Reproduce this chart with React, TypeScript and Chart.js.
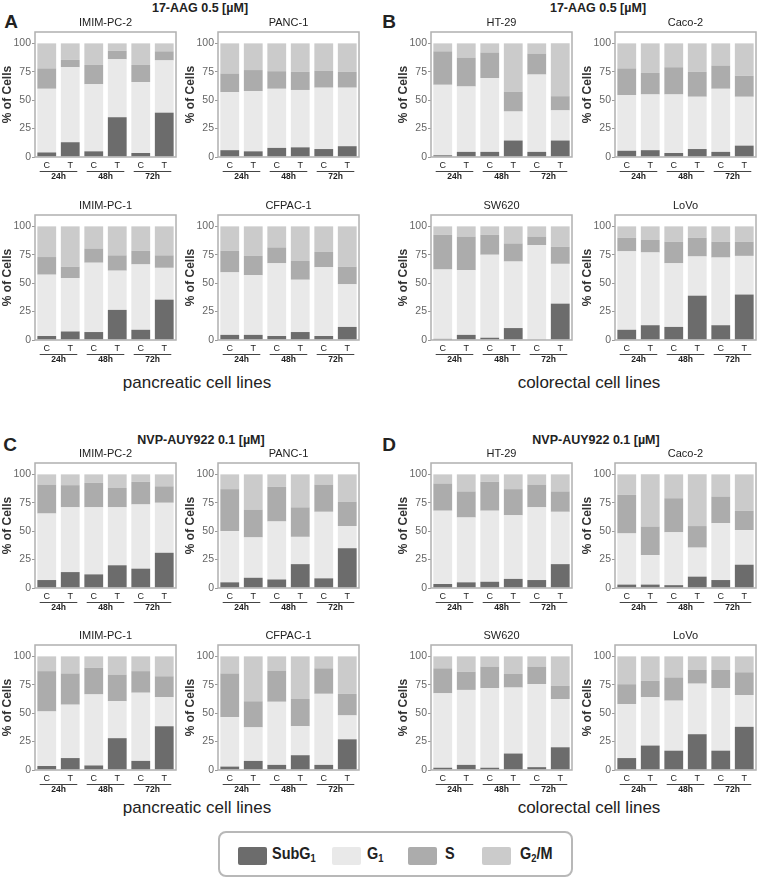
import React, { useEffect, useRef } from 'react';
import { Chart, registerables } from 'chart.js';
Chart.register(...registerables);

// ---------- categories / labels ----------
const categories = ['C', 'T', 'C', 'T', 'C', 'T'];
const groupLabels = ['24h', '48h', '72h'];
const yTickValues = [0, 25, 50, 75, 100];
const phaseNames = ['SubG1', 'G1', 'S', 'G2/M'];
const phaseColors = ['#6c6c6c', '#e9e9e9', '#acacac', '#cbcbcb'];

// ---------- 17-AAG 0.5 µM, pancreatic ----------
const aagImimPc2SubG1 = [4, 13, 5, 35, 3.5, 39];
const aagImimPc2G1 = [56, 66, 59, 51, 62.5, 46];
const aagImimPc2S = [18, 6.5, 17, 7.5, 15, 8];
const aagImimPc2G2M = [22, 14.5, 19, 6.5, 19, 7];

const aagPanc1SubG1 = [6, 5, 8, 8.5, 7, 9.5];
const aagPanc1G1 = [51, 53, 52, 50.5, 54, 51.5];
const aagPanc1S = [16.5, 18.5, 15.5, 16, 15, 14];
const aagPanc1G2M = [26.5, 23.5, 24.5, 25, 24, 25];

const aagImimPc1SubG1 = [3.5, 7.5, 7, 26.5, 9, 35.5];
const aagImimPc1G1 = [54, 47, 61, 34.5, 57.5, 28];
const aagImimPc1S = [15.5, 10, 12.5, 13.5, 12, 11];
const aagImimPc1G2M = [27, 35.5, 19.5, 25.5, 21.5, 25.5];

const aagCfpac1SubG1 = [4.5, 4.5, 3.5, 7, 3.5, 11.5];
const aagCfpac1G1 = [55, 52.5, 64, 46, 60.5, 37.5];
const aagCfpac1S = [19, 17, 14, 16.5, 13.5, 15.5];
const aagCfpac1G2M = [21.5, 26, 18.5, 30.5, 22.5, 35.5];

// ---------- 17-AAG 0.5 µM, colorectal ----------
const aagHt29SubG1 = [1.5, 4.5, 4.5, 14.5, 4.5, 14.5];
const aagHt29G1 = [62, 57.5, 65, 25.5, 68, 26.5];
const aagHt29S = [29.5, 25.5, 22.5, 17.5, 18.5, 12.5];
const aagHt29G2M = [7, 12.5, 8, 42.5, 9, 46.5];

const aagCaco2SubG1 = [5.5, 6, 3.5, 7, 4.5, 10];
const aagCaco2G1 = [49, 49, 51.5, 46, 55.5, 43];
const aagCaco2S = [23.5, 19, 24, 22, 20.5, 18.5];
const aagCaco2G2M = [22, 26, 21, 25, 19.5, 28.5];

const aagSw620SubG1 = [1, 4.5, 2, 10.5, 0.5, 32];
const aagSw620G1 = [61, 57, 73, 58.5, 83, 35];
const aagSw620S = [30.5, 29.5, 17.5, 16, 7.5, 15];
const aagSw620G2M = [7.5, 9, 7.5, 15, 9, 18];

const aagLovoSubG1 = [9, 13, 11.5, 39, 13, 40];
const aagLovoG1 = [69, 64, 56, 34.5, 59.5, 34];
const aagLovoS = [12, 11, 19, 16.5, 14, 12.5];
const aagLovoG2M = [10, 12, 13.5, 10, 13.5, 13.5];

// ---------- NVP-AUY922 0.1 µM, pancreatic ----------
const nvpImimPc2SubG1 = [7, 14, 12, 20, 17, 31];
const nvpImimPc2G1 = [58.5, 57, 59, 51, 56.5, 44];
const nvpImimPc2S = [25.5, 19.5, 21.5, 17, 20, 14.5];
const nvpImimPc2G2M = [9, 9.5, 7.5, 12, 6.5, 10.5];

const nvpPanc1SubG1 = [5, 9, 7.5, 21, 8.5, 35];
const nvpPanc1G1 = [45, 35.5, 51, 24, 58.5, 19.5];
const nvpPanc1S = [37, 24.5, 30.5, 26, 24, 21.5];
const nvpPanc1G2M = [13, 31, 11, 29, 9, 24];

const nvpImimPc1SubG1 = [3.5, 10.5, 4, 28, 8, 38.5];
const nvpImimPc1G1 = [48, 47, 62.5, 32.5, 60, 25.5];
const nvpImimPc1S = [35.5, 27.5, 23.5, 23.5, 19, 18.5];
const nvpImimPc1G2M = [13, 15, 10, 16, 13, 17.5];

const nvpCfpac1SubG1 = [3, 8, 4.5, 13, 4.5, 27];
const nvpCfpac1G1 = [43.5, 29.5, 55.5, 25.5, 62.5, 21];
const nvpCfpac1S = [38.5, 23, 27.5, 24, 22.5, 19];
const nvpCfpac1G2M = [15, 39.5, 12.5, 37.5, 10.5, 33];

// ---------- NVP-AUY922 0.1 µM, colorectal ----------
const nvpHt29SubG1 = [3.5, 5, 5.5, 8, 7, 21];
const nvpHt29G1 = [64.5, 57, 62.5, 56, 64, 46];
const nvpHt29S = [24, 23, 25.5, 23, 20, 18];
const nvpHt29G2M = [8, 15, 6.5, 13, 9, 15];

const nvpCaco2SubG1 = [3, 3, 2.5, 10, 7, 20.5];
const nvpCaco2G1 = [45, 26, 46.5, 25.5, 50, 30.5];
const nvpCaco2S = [34, 25, 30, 19, 23.5, 17];
const nvpCaco2G2M = [18, 46, 21, 45.5, 19.5, 32];

const nvpSw620SubG1 = [2, 4.5, 2, 14.5, 2.5, 20];
const nvpSw620G1 = [65.5, 66, 70, 58, 73, 42.5];
const nvpSw620S = [22, 16, 19, 12, 15.5, 11.5];
const nvpSw620G2M = [10.5, 13.5, 9, 15.5, 9, 26];

const nvpLovoSubG1 = [10.5, 21.5, 17, 31.5, 17, 38];
const nvpLovoG1 = [47.5, 42.5, 44, 44.5, 55, 28];
const nvpLovoS = [17.5, 14.5, 20.5, 12, 16, 20];
const nvpLovoG2M = [24.5, 21.5, 18.5, 12, 12, 14];

// ---------- layout ----------
const AXIS_W = 36;
const PAD_TOP = 18;
const PLOT_W = 141;
const PLOT_H = 125;
const XAXIS_H = 32;
const PAD_R = 2;

const SANS = '"Liberation Sans", Arial, sans-serif';

type Spec = { title: string; fx: number; fy: number; series: number[][] };

const specs: Spec[] = [
  { title: 'IMIM-PC-2', fx: 35, fy: 32, series: [aagImimPc2SubG1, aagImimPc2G1, aagImimPc2S, aagImimPc2G2M] },
  { title: 'PANC-1', fx: 218, fy: 32, series: [aagPanc1SubG1, aagPanc1G1, aagPanc1S, aagPanc1G2M] },
  { title: 'IMIM-PC-1', fx: 35, fy: 215, series: [aagImimPc1SubG1, aagImimPc1G1, aagImimPc1S, aagImimPc1G2M] },
  { title: 'CFPAC-1', fx: 218, fy: 215, series: [aagCfpac1SubG1, aagCfpac1G1, aagCfpac1S, aagCfpac1G2M] },
  { title: 'HT-29', fx: 431, fy: 32, series: [aagHt29SubG1, aagHt29G1, aagHt29S, aagHt29G2M] },
  { title: 'Caco-2', fx: 615, fy: 32, series: [aagCaco2SubG1, aagCaco2G1, aagCaco2S, aagCaco2G2M] },
  { title: 'SW620', fx: 431, fy: 215, series: [aagSw620SubG1, aagSw620G1, aagSw620S, aagSw620G2M] },
  { title: 'LoVo', fx: 615, fy: 215, series: [aagLovoSubG1, aagLovoG1, aagLovoS, aagLovoG2M] },
  { title: 'IMIM-PC-2', fx: 35, fy: 463, series: [nvpImimPc2SubG1, nvpImimPc2G1, nvpImimPc2S, nvpImimPc2G2M] },
  { title: 'PANC-1', fx: 218, fy: 463, series: [nvpPanc1SubG1, nvpPanc1G1, nvpPanc1S, nvpPanc1G2M] },
  { title: 'IMIM-PC-1', fx: 35, fy: 645, series: [nvpImimPc1SubG1, nvpImimPc1G1, nvpImimPc1S, nvpImimPc1G2M] },
  { title: 'CFPAC-1', fx: 218, fy: 645, series: [nvpCfpac1SubG1, nvpCfpac1G1, nvpCfpac1S, nvpCfpac1G2M] },
  { title: 'HT-29', fx: 431, fy: 463, series: [nvpHt29SubG1, nvpHt29G1, nvpHt29S, nvpHt29G2M] },
  { title: 'Caco-2', fx: 615, fy: 463, series: [nvpCaco2SubG1, nvpCaco2G1, nvpCaco2S, nvpCaco2G2M] },
  { title: 'SW620', fx: 431, fy: 645, series: [nvpSw620SubG1, nvpSw620G1, nvpSw620S, nvpSw620G2M] },
  { title: 'LoVo', fx: 615, fy: 645, series: [nvpLovoSubG1, nvpLovoG1, nvpLovoS, nvpLovoG2M] },
];

function makeDecor(title: string) {
  return {
    id: 'decor',
    afterDraw(chart: any) {
      const { ctx, chartArea: a } = chart;
      const x = chart.scales.x;
      ctx.save();
      // frame
      ctx.strokeStyle = '#b0b0b0';
      ctx.lineWidth = 1.5;
      ctx.strokeRect(a.left, a.top, a.right - a.left, a.bottom - a.top);
      // subplot title
      ctx.fillStyle = '#222';
      ctx.font = '11px ' + SANS;
      ctx.textAlign = 'center';
      ctx.textBaseline = 'middle';
      ctx.fillText(title, (a.left + a.right) / 2, a.top - 9);
      // group underline and labels
      const step = x.getPixelForValue(1) - x.getPixelForValue(0);
      const half = step * 0.3;
      groupLabels.forEach((g: string, i: number) => {
        const x1 = x.getPixelForValue(2 * i) - half;
        const x2 = x.getPixelForValue(2 * i + 1) + half;
        const y = a.bottom + 14.5;
        ctx.beginPath();
        ctx.moveTo(x1, y);
        ctx.lineTo(x2, y);
        ctx.strokeStyle = '#444';
        ctx.lineWidth = 1;
        ctx.stroke();
        ctx.fillStyle = '#222';
        ctx.font = 'bold 8.5px ' + SANS;
        ctx.fillText(g, (x1 + x2) / 2, y + 5.5);
      });
      ctx.restore();
    },
  };
}

function SubChart({ spec }: { spec: Spec }) {
  const ref = useRef<HTMLCanvasElement>(null);
  useEffect(() => {
    const chart = new Chart(ref.current as HTMLCanvasElement, {
      type: 'bar',
      data: {
        labels: categories,
        datasets: spec.series.map((d, i) => ({
          label: phaseNames[i],
          data: d,
          backgroundColor: phaseColors[i],
          borderWidth: 0,
          barPercentage: 0.8,
          categoryPercentage: 1,
        })),
      },
      options: {
        animation: false,
        responsive: false,
        maintainAspectRatio: false,
        layout: { padding: { top: PAD_TOP, right: PAD_R, left: 0, bottom: 0 } },
        plugins: { legend: { display: false }, tooltip: { enabled: false }, title: { display: false } },
        scales: {
          x: {
            stacked: true,
            afterFit: (s: any) => { s.height = XAXIS_H; },
            grid: { display: false, drawTicks: false },
            border: { display: false },
            ticks: {
              autoSkip: false,
              maxRotation: 0,
              padding: 3,
              color: '#222',
              font: { size: 9, family: SANS },
            },
          },
          y: {
            stacked: true,
            min: 0,
            max: 110,
            afterBuildTicks: (s: any) => { s.ticks = yTickValues.map((v) => ({ value: v })); },
            afterFit: (s: any) => { s.width = AXIS_W; },
            grid: { display: true, drawOnChartArea: false, drawTicks: true, tickLength: 3, color: '#999' },
            border: { display: false },
            ticks: { padding: 1, color: '#666', font: { size: 10.5, family: SANS } },
            title: {
              display: true,
              text: '% of Cells',
              color: '#333',
              font: { size: 12, weight: 'bold', family: SANS },
              padding: { top: 1, bottom: 0 },
            },
          },
        },
      },
      plugins: [makeDecor(spec.title)],
    } as any);
    return () => chart.destroy();
  }, [spec]);
  return (
    <canvas
      ref={ref}
      width={AXIS_W + PLOT_W + PAD_R}
      height={PAD_TOP + PLOT_H + XAXIS_H}
      style={{ position: 'absolute', left: spec.fx - AXIS_W, top: spec.fy - PAD_TOP }}
    />
  );
}

function Txt({ x, y, size, bold, children }: any) {
  return (
    <div
      style={{
        position: 'absolute',
        left: x,
        top: y,
        transform: 'translate(-50%, -50%)',
        whiteSpace: 'nowrap',
        fontFamily: SANS,
        fontSize: size,
        fontWeight: bold ? 'bold' : 'normal',
        color: '#222',
        lineHeight: 1,
      }}
    >
      {children}
    </div>
  );
}

const legendSwatchX = [238, 332, 408, 482];
const legendTextX = [272, 367, 445, 520];

function PhaseLabel({ name }: { name: string }) {
  const sub = { fontSize: 11, verticalAlign: -3 } as any;
  if (name === 'SubG1') return <span>SubG<sub style={sub}>1</sub></span>;
  if (name === 'G1') return <span>G<sub style={sub}>1</sub></span>;
  if (name === 'G2/M') return <span>G<sub style={sub}>2</sub>/M</span>;
  return <span>{name}</span>;
}

export default function App() {
  return (
    <div style={{ position: 'absolute', left: 0, top: 0, width: 758, height: 880, overflow: 'hidden', background: '#fff' }}>
      <Txt x={200} y={8} size={12.5} bold>17-AAG 0.5 [µM]</Txt>
      <Txt x={598} y={8} size={12.5} bold>17-AAG 0.5 [µM]</Txt>
      <Txt x={201} y={440} size={12.5} bold>NVP-AUY922 0.1 [µM]</Txt>
      <Txt x={596} y={440} size={12.5} bold>NVP-AUY922 0.1 [µM]</Txt>
      <Txt x={11} y={21} size={19} bold>A</Txt>
      <Txt x={389} y={21} size={19} bold>B</Txt>
      <Txt x={10} y={444} size={19} bold>C</Txt>
      <Txt x={389} y={444} size={19} bold>D</Txt>
      <Txt x={197} y={382} size={17}>pancreatic cell lines</Txt>
      <Txt x={589} y={382} size={17}>colorectal cell lines</Txt>
      <Txt x={197} y={807} size={17}>pancreatic cell lines</Txt>
      <Txt x={589} y={807} size={17}>colorectal cell lines</Txt>
      {specs.map((s, i) => <SubChart key={i} spec={s} />)}
      <div
        style={{
          position: 'absolute',
          left: 218,
          top: 831,
          width: 355,
          height: 46,
          boxSizing: 'border-box',
          border: '2px solid #b8b8b8',
          borderRadius: 8,
        }}
      />
      {phaseNames.map((n, i) => (
        <React.Fragment key={n}>
          <div style={{ position: 'absolute', left: legendSwatchX[i], top: 847, width: 29, height: 18, background: phaseColors[i], borderRadius: 2 }} />
          <div
            style={{
              position: 'absolute',
              left: legendTextX[i],
              top: 845,
              fontFamily: SANS,
              fontSize: 17,
              fontWeight: 'bold',
              color: '#222',
              lineHeight: '18px',
              whiteSpace: 'nowrap',
              transform: 'scaleX(0.85)',
              transformOrigin: 'left center',
            }}
          >
            <PhaseLabel name={n} />
          </div>
        </React.Fragment>
      ))}
    </div>
  );
}
